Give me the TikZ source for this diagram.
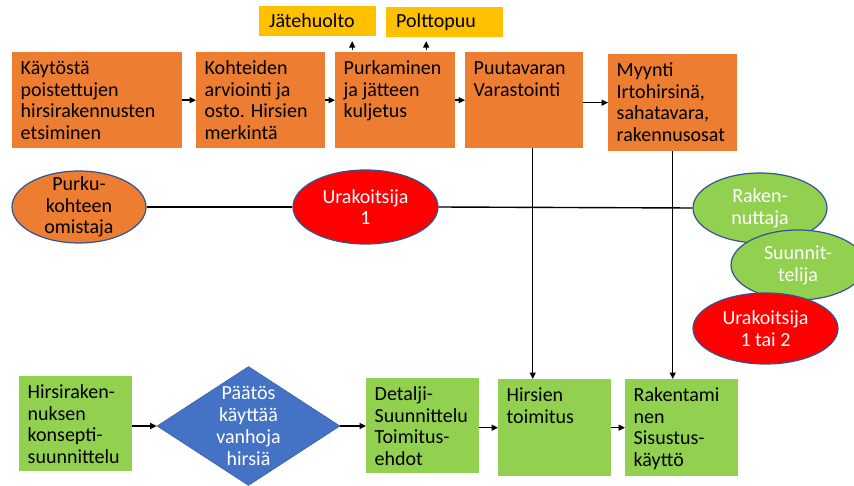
\documentclass[tikz,border=0pt]{standalone}
\usepackage{fontspec}
\setmainfont{Carlito}
\usetikzlibrary{shapes.geometric,arrows.meta}

\definecolor{procorange}{HTML}{ED7D31}
\definecolor{procgreen}{HTML}{92D050}
\definecolor{tagyellow}{HTML}{FFC000}
\definecolor{partyred}{HTML}{FF0000}
\definecolor{decisionblue}{HTML}{4472C4}
\definecolor{rimblue}{HTML}{2F5597}

% top-aligned, left-aligned text block of fixed size
\newcommand\boxtext[3]{\parbox[t][#2][t]{#1}{\raggedright\strut #3}}

\begin{document}
\begin{tikzpicture}[x=1pt,y=-1pt,
  every node/.style={font=\fontsize{20}{21.7}\selectfont},
  procbox/.style={rectangle, anchor=north west, inner xsep=8.5pt, inner ysep=7pt},
  orangebox/.style={procbox, fill=procorange},
  greenbox/.style={procbox, fill=procgreen},
  tagbox/.style={rectangle, anchor=north west, fill=tagyellow, inner xsep=10pt,
    inner ysep=0pt, text width=97pt, minimum height=29.7pt, align=left},
  party/.style={ellipse, draw=rimblue, line width=1.2pt, inner sep=0pt},
  partytext/.style={align=center, inner sep=0pt},
  link/.style={line width=1.4pt},
  arr/.style={line width=1.4pt, -{Triangle[length=6.5pt,width=6pt]}},
]
\path[use as bounding box, clip] (0,0) rectangle (854,486);

% ---- top row: dismantling chain ----
\node[orangebox] (b1) at (12,52)  {\boxtext{153pt}{82pt}{Käytöstä\\poistettujen\\hirsirakennusten\\etsiminen}};
\node[orangebox] (b2) at (196,52) {\boxtext{112pt}{82pt}{Kohteiden\\arviointi ja\\osto. Hirsien\\merkintä}};
\node[orangebox] (b3) at (335,52) {\boxtext{103pt}{82pt}{Purkaminen\\ja jätteen\\kuljetus}};
\node[orangebox] (b4) at (465,52) {\boxtext{101pt}{82pt}{Puutavaran\\Varastointi}};
\node[orangebox] (b5) at (608,54) {\boxtext{112pt}{83pt}{Myynti\\Irtohirsinä,\\sahatavara,\\rakennusosat}};

\node[tagbox] (jh) at (259,6) {Jätehuolto};
\node[tagbox] (pp) at (386,7) {Polttopuu};

\draw[arr] (b1.east) -- (b2.west);
\draw[arr] (b2.east) -- (b3.west);
\draw[arr] (b3.east) -- (b4.west);
\draw[arr] (b4.east |- b5.west) -- (b5.west);
\draw[arr, shorten <=2pt, shorten >=5pt] ([xshift=-43pt]b3.north) -- ([xshift=-43pt]b3.north |- jh.south);
\draw[arr, shorten <=2pt, shorten >=4pt] ([xshift=31pt]b3.north) -- ([xshift=31pt]b3.north |- pp.south);

% ---- bottom row: new building chain ----
\node[greenbox] (hk) at (19,376)  {\boxtext{96pt}{81pt}{Hirsiraken-\\nuksen\\konsepti-\\suunnittelu}};
\node[diamond, fill=decisionblue, draw=decisionblue!85!black, line width=0.6pt,
      minimum width=183pt, minimum height=119pt, inner sep=0pt,
      label={[partytext, text=white]center:Päätös\\käyttää\\vanhoja\\hirsiä}] (pd) at (248.5,426) {};
\node[greenbox] (dt) at (366,378) {\boxtext{96pt}{81pt}{Detalji-\\Suunnittelu\\Toimitus-\\ehdot}};
\node[greenbox] (ht) at (498,379) {\boxtext{96pt}{83pt}{Hirsien\\toimitus}};
\node[greenbox] (rk) at (625,379) {\boxtext{96pt}{83pt}{Rakentami\\nen\\Sisustus-\\käyttö}};

\draw[arr] (hk.east |- pd.west) -- (pd.west);
\draw[arr] (pd.east) -- (pd.east -| dt.west);
\draw[arr] (dt.east |- ht.west) -- (ht.west);
\draw[arr] (ht.east) -- (rk.west);

% ---- parties ----
\node[party, fill=procorange, minimum width=134pt, minimum height=72pt,
      label={[partytext]center:Purku-\\kohteen\\omistaja}] (pk) at (79,207) {};
\node[party, fill=partyred, minimum width=145pt, minimum height=74pt,
      label={[partytext, text=white]center:Urakoitsija\\1}] (u1) at (365.5,207) {};

\draw[link] (pk.east) -- (u1.west);

% material flow from storage and sales down to the building chain
\draw[arr] ([xshift=8.5pt]b4.south) -- ([xshift=8.5pt]b4.south |- ht.north);
\draw[arr] (b5.south) -- (b5.south |- rk.north);

\node[party, fill=procgreen, minimum width=134pt, minimum height=70pt,
      label={[partytext, text=white]center:Raken-\\nuttaja}] (rak) at (760,208) {};
\draw[link] (u1.east) -- (rak.west);
\node[party, fill=procgreen, minimum width=134pt, minimum height=70pt,
      label={[partytext, text=white]center:Suunnit-\\telija}] (suu) at (798,265) {};
\node[party, fill=partyred, minimum width=145pt, minimum height=71pt,
      label={[partytext, text=white]center:Urakoitsija\\1 tai 2}] (u2) at (765.5,328.5) {};
\end{tikzpicture}
\end{document}
